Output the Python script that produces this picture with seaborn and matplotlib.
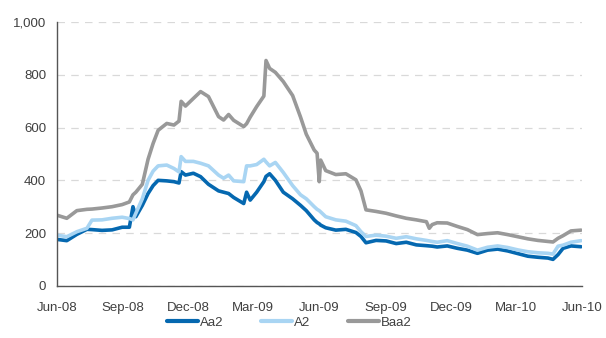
import numpy as np
import pandas as pd
import matplotlib
matplotlib.use("Agg")
import matplotlib.pyplot as plt
import matplotlib.dates as mdates
import seaborn as sns

dates = [
    "2008-06-01", "2008-06-15", "2008-06-29", "2008-07-13", "2008-07-20", "2008-08-03",
    "2008-08-17", "2008-08-31", "2008-09-10", "2008-09-15", "2008-09-19", "2008-09-28",
    "2008-10-06", "2008-10-13", "2008-10-20", "2008-11-01", "2008-11-11", "2008-11-18",
    "2008-11-21", "2008-11-27", "2008-12-08", "2008-12-18", "2008-12-29", "2009-01-12",
    "2009-01-19", "2009-01-26", "2009-02-02", "2009-02-16", "2009-02-20", "2009-02-25",
    "2009-03-06", "2009-03-16", "2009-03-19", "2009-03-24", "2009-04-01", "2009-04-12",
    "2009-04-25", "2009-05-06", "2009-05-14", "2009-05-25", "2009-05-29", "2009-06-01",
    "2009-06-03", "2009-06-10", "2009-06-24", "2009-07-08", "2009-07-22", "2009-07-29",
    "2009-08-05", "2009-08-19", "2009-09-02", "2009-09-16", "2009-09-30", "2009-10-14",
    "2009-10-28", "2009-11-01", "2009-11-05", "2009-11-12", "2009-11-26", "2009-12-10",
    "2009-12-24", "2010-01-07", "2010-01-21", "2010-02-04", "2010-02-18", "2010-03-04",
    "2010-03-18", "2010-04-01", "2010-04-15", "2010-04-22", "2010-04-29", "2010-05-06",
    "2010-05-17", "2010-05-31",
]

aa2 = [
    176, 171, 195, 214, 213, 210, 212, 222, 222, 300, 262, 305,
    350, 380, 400, 398, 395, 390, 433, 420, 427, 414, 385, 360,
    355, 350, 335, 312, 355, 325, 355, 395, 415, 425, 400, 355,
    330, 305, 285, 250, 240, 235, 230, 220, 211, 214, 202, 187,
    163, 172, 170, 160, 165, 155, 152, 151, 150, 147, 151, 142,
    135, 123, 135, 139, 132, 122, 112, 108, 105, 100, 118, 142,
    151, 148,
]

a2 = [
    192, 186, 205, 218, 249, 250, 256, 260, 255, 250, 275, 330,
    400, 435, 455, 458, 445, 432, 490, 472, 472, 465, 455, 420,
    408, 420, 398, 395, 455, 455, 460, 480, 470, 455, 468, 430,
    380, 345, 330, 300, 290, 285, 280, 262, 250, 245, 228, 205,
    187, 192, 188, 180, 186, 178, 172, 170, 168, 165, 171, 160,
    150, 135, 146, 151, 145, 136, 129, 125, 123, 120, 150, 154,
    165, 171,
]

baa2 = [
    268, 256, 285, 290, 291, 295, 300, 308, 318, 345, 355, 385,
    480, 540, 590, 616, 610, 625, 700, 682, 711, 737, 718, 642,
    629, 650, 628, 604, 615, 640, 680, 720, 855, 825, 810, 775,
    722, 640, 575, 515, 503, 395, 477, 437, 422, 425, 402, 360,
    288, 282, 275, 265, 256, 250, 243, 218, 232, 239, 238, 225,
    213, 194, 198, 201, 194, 186, 178, 172, 168, 166, 180, 190,
    208, 211,
]

series_names = ["Aa2", "A2", "Baa2"]
colors = ["#0568B0", "#A9D5F3", "#999999"]

df = pd.concat([
    pd.DataFrame({"date": pd.to_datetime(dates), "value": v, "series": n})
    for n, v in zip(series_names, [aa2, a2, baa2])
])

sns.set_style("white")
plt.rcParams["font.family"] = ["Liberation Sans", "DejaVu Sans"]

fig = plt.figure(figsize=(6.06, 3.38), dpi=100)
ax = fig.add_axes([0.0936, 0.1547, 0.8664, 0.7793])

sns.lineplot(data=df, x="date", y="value", hue="series", hue_order=series_names,
             palette=colors, linewidth=2.6, ax=ax, legend=True)

ax.set_xlim(pd.Timestamp("2008-06-01"), pd.Timestamp("2010-06-01"))
ax.set_ylim(0, 1000)
ax.set_yticks(range(0, 1001, 200))
ax.yaxis.set_major_formatter(matplotlib.ticker.FuncFormatter(lambda v, p: f"{int(v):,}"))
ax.xaxis.set_major_locator(mdates.MonthLocator(bymonth=[3, 6, 9, 12]))
ax.xaxis.set_major_formatter(mdates.DateFormatter("%b-%y"))
ax.set_xlabel("")
ax.set_ylabel("")

ax.grid(axis="y", color="#d9d9d9", linestyle=(0, (6, 5)), linewidth=0.9)
ax.set_axisbelow(True)
for s in ["top", "right"]:
    ax.spines[s].set_visible(False)
for s in ["left", "bottom"]:
    ax.spines[s].set_color("#555555")
    ax.spines[s].set_linewidth(1.0)
ax.tick_params(axis="both", which="major", direction="out", length=4, width=1,
               color="#555555", labelsize=9.5, labelcolor="#404040")
ax.tick_params(axis="x", pad=8)

handles, labels = ax.get_legend_handles_labels()
leg = ax.legend(handles, labels, loc="center", bbox_to_anchor=(0.443, -0.14),
                ncol=3, frameon=False, fontsize=9.5, handlelength=2.3,
                columnspacing=2.9, handletextpad=0.15, borderaxespad=0)
for t in leg.get_texts():
    t.set_color("#404040")
for l in leg.get_lines():
    l.set_linewidth(3)

fig.savefig("out.png", dpi=100)
